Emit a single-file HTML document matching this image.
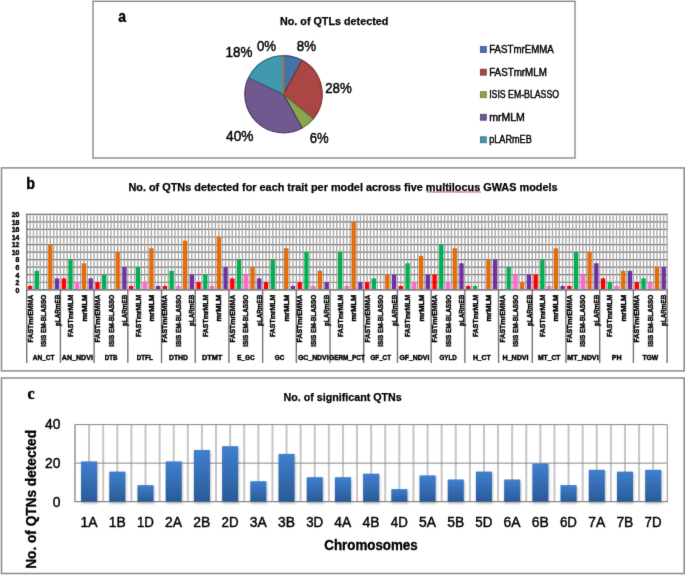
<!DOCTYPE html>
<html><head><meta charset="utf-8"><title>QTN charts</title>
<style>html,body{margin:0;padding:0;background:#fff}svg{display:block}</style>
</head><body>
<svg width="685" height="575" viewBox="0 0 685 575" font-family='"Liberation Sans", sans-serif'>
<defs>
<linearGradient id="bg" x1="0" y1="0" x2="0" y2="1"><stop offset="0" stop-color="#3f80cf"/><stop offset="1" stop-color="#2a5a97"/></linearGradient>
<filter id="soft" x="0" y="0" width="100%" height="100%" filterUnits="userSpaceOnUse" color-interpolation-filters="sRGB"><feConvolveMatrix order="3" kernelMatrix="0.008 0.07 0.008 0.07 0.688 0.07 0.008 0.07 0.008" edgeMode="duplicate" preserveAlpha="true"/></filter>
<filter id="sh" x="-30%" y="-10%" width="160%" height="130%"><feGaussianBlur stdDeviation="1.1"/></filter>
</defs>
<rect width="685" height="575" fill="#fff"/>
<g filter="url(#soft)">
<rect width="685" height="575" fill="#fff"/>
<rect x="93" y="1.3" width="482" height="156.7" fill="#fff" stroke="#8a8a8a" stroke-width="1.4"/>
<rect x="1.5" y="167.9" width="682.7" height="203.0" fill="#fff" stroke="#8a8a8a" stroke-width="1.5"/>
<rect x="1.5" y="378" width="682.7" height="195.5" fill="#fff" stroke="#8a8a8a" stroke-width="1.5"/>
<text transform="translate(118.3,22.1) scale(0.88,1)" font-size="15.8" font-weight="bold" stroke="#000" stroke-width="0.4">a</text>
<text x="280.00" y="24.70" font-size="11.4" font-weight="bold" fill="#000" textLength="108.30" lengthAdjust="spacingAndGlyphs" stroke="#000" stroke-width="0.25">No. of QTLs detected</text>
<path d="M283.5,94.2 L283.50,55.55 A38.65,38.65 0 0 1 302.12,60.33 Z" fill="#4572A7" stroke="#2f4f76" stroke-width="1.15" stroke-linejoin="round"/>
<path d="M283.5,94.2 L302.12,60.33 A38.65,38.65 0 0 1 313.28,118.84 Z" fill="#AA4643" stroke="#772f2d" stroke-width="1.15" stroke-linejoin="round"/>
<path d="M283.5,94.2 L313.28,118.84 A38.65,38.65 0 0 1 302.12,128.07 Z" fill="#89A54E" stroke="#5e7335" stroke-width="1.15" stroke-linejoin="round"/>
<path d="M283.5,94.2 L302.12,128.07 A38.65,38.65 0 0 1 248.53,77.74 Z" fill="#71588F" stroke="#4b3a61" stroke-width="1.15" stroke-linejoin="round"/>
<path d="M283.5,94.2 L248.53,77.74 A38.65,38.65 0 0 1 283.50,55.55 Z" fill="#4198AF" stroke="#2b6879" stroke-width="1.15" stroke-linejoin="round"/>
<line x1="283.5" y1="94.2" x2="283.5" y2="55.550000000000004" stroke="#b9712f" stroke-width="1.5"/>
<text x="225.60" y="57.10" font-size="14.0" font-weight="normal" fill="#000" textLength="26.90" lengthAdjust="spacingAndGlyphs" stroke="#000" stroke-width="0.42">18%</text>
<text x="256.90" y="51.30" font-size="14.0" font-weight="normal" fill="#000" textLength="19.10" lengthAdjust="spacingAndGlyphs" stroke="#000" stroke-width="0.42">0%</text>
<text x="296.80" y="51.30" font-size="14.0" font-weight="normal" fill="#000" textLength="19.30" lengthAdjust="spacingAndGlyphs" stroke="#000" stroke-width="0.42">8%</text>
<text x="325.20" y="92.80" font-size="14.0" font-weight="normal" fill="#000" textLength="26.60" lengthAdjust="spacingAndGlyphs" stroke="#000" stroke-width="0.42">28%</text>
<text x="226.00" y="140.50" font-size="14.0" font-weight="normal" fill="#000" textLength="27.50" lengthAdjust="spacingAndGlyphs" stroke="#000" stroke-width="0.42">40%</text>
<text x="309.80" y="142.90" font-size="14.0" font-weight="normal" fill="#000" textLength="18.90" lengthAdjust="spacingAndGlyphs" stroke="#000" stroke-width="0.42">6%</text>
<rect x="480.3" y="46.60" width="6" height="6" fill="#4572A7" stroke="#2f4f76" stroke-width="0.7"/>
<text x="489.20" y="53.00" font-size="10.0" font-weight="normal" fill="#000" textLength="64.60" lengthAdjust="spacingAndGlyphs" stroke="#000" stroke-width="0.42">FASTmrEMMA</text>
<rect x="480.3" y="69.15" width="6" height="6" fill="#AA4643" stroke="#772f2d" stroke-width="0.7"/>
<text x="489.20" y="75.55" font-size="10.0" font-weight="normal" fill="#000" textLength="57.60" lengthAdjust="spacingAndGlyphs" stroke="#000" stroke-width="0.42">FASTmrMLM</text>
<rect x="480.3" y="91.70" width="6" height="6" fill="#89A54E" stroke="#5e7335" stroke-width="0.7"/>
<text x="489.20" y="98.10" font-size="10.0" font-weight="normal" fill="#000" textLength="69.80" lengthAdjust="spacingAndGlyphs" stroke="#000" stroke-width="0.42">ISIS EM-BLASSO</text>
<rect x="480.3" y="114.25" width="6" height="6" fill="#71588F" stroke="#4b3a61" stroke-width="0.7"/>
<text x="489.20" y="120.65" font-size="10.0" font-weight="normal" fill="#000" textLength="35.60" lengthAdjust="spacingAndGlyphs" stroke="#000" stroke-width="0.42">mrMLM</text>
<rect x="480.3" y="136.80" width="6" height="6" fill="#4198AF" stroke="#2b6879" stroke-width="0.7"/>
<text x="489.20" y="143.20" font-size="10.0" font-weight="normal" fill="#000" textLength="42.60" lengthAdjust="spacingAndGlyphs" stroke="#000" stroke-width="0.42">pLARmEB</text>
<text transform="translate(26.3,188.7) scale(0.86,1)" font-size="16.6" font-weight="bold" stroke="#000" stroke-width="0.4">b</text>
<text x="128.40" y="191.40" font-size="11.4" font-weight="bold" fill="#000" textLength="429.20" lengthAdjust="spacingAndGlyphs" stroke="#000" stroke-width="0.25">No. of QTNs detected for each trait per model across five multilocus GWAS models</text>
<path d="M426.9,192.1 L428.4,191.7 L429.9,192.3 L431.4,191.7 L432.9,192.3 L434.4,191.7 L435.9,192.3 L437.4,191.7 L438.9,192.3 L440.4,191.7 L441.9,192.3 L443.4,191.7 L444.9,192.3 L446.4,191.7 L447.9,192.3 L449.4,191.7 L450.9,192.3 L452.4,191.7 L453.9,192.3 L455.4,191.7 L456.9,192.3 L458.4,191.7 L459.9,192.3 L461.4,191.7 L462.9,192.3 L464.4,191.7 L465.9,192.3 L467.4,191.7 L468.9,192.3 L470.4,191.7 L471.9,192.3 L473.4,191.7 L474.9,192.3 L476.4,191.7 L477.9,192.3 L479.4,191.7 L480.9,192.3" fill="none" stroke="#e02020" stroke-width="0.9"/>
<path d="M26.099999999999998,214.35H667.7 M26.099999999999998,221.89H667.7 M26.099999999999998,229.44H667.7 M26.099999999999998,236.99H667.7 M26.099999999999998,244.53H667.7 M26.099999999999998,252.07H667.7 M26.099999999999998,259.62H667.7 M26.099999999999998,267.17H667.7 M26.099999999999998,274.71H667.7 M26.099999999999998,282.25H667.7 M26.099999999999998,289.80H667.7" stroke="#6c6c6c" stroke-width="1.2" fill="none"/>
<path d="M26.70,213.45V290.30 M30.07,213.45V290.30 M33.44,213.45V290.30 M36.81,213.45V290.30 M40.18,213.45V290.30 M43.55,213.45V290.30 M46.92,213.45V290.30 M50.29,213.45V290.30 M53.66,213.45V290.30 M57.03,213.45V290.30 M60.41,213.45V290.30 M63.78,213.45V290.30 M67.15,213.45V290.30 M70.52,213.45V290.30 M73.89,213.45V290.30 M77.26,213.45V290.30 M80.63,213.45V290.30 M84.00,213.45V290.30 M87.37,213.45V290.30 M90.74,213.45V290.30 M94.11,213.45V290.30 M97.48,213.45V290.30 M100.85,213.45V290.30 M104.22,213.45V290.30 M107.59,213.45V290.30 M110.96,213.45V290.30 M114.33,213.45V290.30 M117.70,213.45V290.30 M121.07,213.45V290.30 M124.45,213.45V290.30 M127.82,213.45V290.30 M131.19,213.45V290.30 M134.56,213.45V290.30 M137.93,213.45V290.30 M141.30,213.45V290.30 M144.67,213.45V290.30 M148.04,213.45V290.30 M151.41,213.45V290.30 M154.78,213.45V290.30 M158.15,213.45V290.30 M161.52,213.45V290.30 M164.89,213.45V290.30 M168.26,213.45V290.30 M171.63,213.45V290.30 M175.00,213.45V290.30 M178.37,213.45V290.30 M181.74,213.45V290.30 M185.11,213.45V290.30 M188.49,213.45V290.30 M191.86,213.45V290.30 M195.23,213.45V290.30 M198.60,213.45V290.30 M201.97,213.45V290.30 M205.34,213.45V290.30 M208.71,213.45V290.30 M212.08,213.45V290.30 M215.45,213.45V290.30 M218.82,213.45V290.30 M222.19,213.45V290.30 M225.56,213.45V290.30 M228.93,213.45V290.30 M232.30,213.45V290.30 M235.67,213.45V290.30 M239.04,213.45V290.30 M242.41,213.45V290.30 M245.78,213.45V290.30 M249.15,213.45V290.30 M252.53,213.45V290.30 M255.90,213.45V290.30 M259.27,213.45V290.30 M262.64,213.45V290.30 M266.01,213.45V290.30 M269.38,213.45V290.30 M272.75,213.45V290.30 M276.12,213.45V290.30 M279.49,213.45V290.30 M282.86,213.45V290.30 M286.23,213.45V290.30 M289.60,213.45V290.30 M292.97,213.45V290.30 M296.34,213.45V290.30 M299.71,213.45V290.30 M303.08,213.45V290.30 M306.45,213.45V290.30 M309.82,213.45V290.30 M313.19,213.45V290.30 M316.57,213.45V290.30 M319.94,213.45V290.30 M323.31,213.45V290.30 M326.68,213.45V290.30 M330.05,213.45V290.30 M333.42,213.45V290.30 M336.79,213.45V290.30 M340.16,213.45V290.30 M343.53,213.45V290.30 M346.90,213.45V290.30 M350.27,213.45V290.30 M353.64,213.45V290.30 M357.01,213.45V290.30 M360.38,213.45V290.30 M363.75,213.45V290.30 M367.12,213.45V290.30 M370.49,213.45V290.30 M373.86,213.45V290.30 M377.23,213.45V290.30 M380.61,213.45V290.30 M383.98,213.45V290.30 M387.35,213.45V290.30 M390.72,213.45V290.30 M394.09,213.45V290.30 M397.46,213.45V290.30 M400.83,213.45V290.30 M404.20,213.45V290.30 M407.57,213.45V290.30 M410.94,213.45V290.30 M414.31,213.45V290.30 M417.68,213.45V290.30 M421.05,213.45V290.30 M424.42,213.45V290.30 M427.79,213.45V290.30 M431.16,213.45V290.30 M434.53,213.45V290.30 M437.90,213.45V290.30 M441.27,213.45V290.30 M444.65,213.45V290.30 M448.02,213.45V290.30 M451.39,213.45V290.30 M454.76,213.45V290.30 M458.13,213.45V290.30 M461.50,213.45V290.30 M464.87,213.45V290.30 M468.24,213.45V290.30 M471.61,213.45V290.30 M474.98,213.45V290.30 M478.35,213.45V290.30 M481.72,213.45V290.30 M485.09,213.45V290.30 M488.46,213.45V290.30 M491.83,213.45V290.30 M495.20,213.45V290.30 M498.57,213.45V290.30 M501.94,213.45V290.30 M505.31,213.45V290.30 M508.69,213.45V290.30 M512.06,213.45V290.30 M515.43,213.45V290.30 M518.80,213.45V290.30 M522.17,213.45V290.30 M525.54,213.45V290.30 M528.91,213.45V290.30 M532.28,213.45V290.30 M535.65,213.45V290.30 M539.02,213.45V290.30 M542.39,213.45V290.30 M545.76,213.45V290.30 M549.13,213.45V290.30 M552.50,213.45V290.30 M555.87,213.45V290.30 M559.24,213.45V290.30 M562.61,213.45V290.30 M565.98,213.45V290.30 M569.35,213.45V290.30 M572.73,213.45V290.30 M576.10,213.45V290.30 M579.47,213.45V290.30 M582.84,213.45V290.30 M586.21,213.45V290.30 M589.58,213.45V290.30 M592.95,213.45V290.30 M596.32,213.45V290.30 M599.69,213.45V290.30 M603.06,213.45V290.30 M606.43,213.45V290.30 M609.80,213.45V290.30 M613.17,213.45V290.30 M616.54,213.45V290.30 M619.91,213.45V290.30 M623.28,213.45V290.30 M626.65,213.45V290.30 M630.02,213.45V290.30 M633.39,213.45V290.30 M636.77,213.45V290.30 M640.14,213.45V290.30 M643.51,213.45V290.30 M646.88,213.45V290.30 M650.25,213.45V290.30 M653.62,213.45V290.30 M656.99,213.45V290.30 M660.36,213.45V290.30 M663.73,213.45V290.30 M667.10,213.45V290.30" stroke="#a8a8a8" stroke-width="1.35" fill="none"/>
<rect x="27.92" y="285.93" width="4.3" height="3.87" fill="#FF0000"/>
<rect x="34.66" y="270.84" width="4.3" height="18.96" fill="#00B050"/>
<rect x="48.14" y="244.43" width="4.3" height="45.37" fill="#E46C0A"/>
<rect x="54.88" y="278.38" width="4.3" height="11.42" fill="#7030A0"/>
<rect x="61.63" y="278.38" width="4.3" height="11.42" fill="#FF0000"/>
<rect x="68.37" y="259.52" width="4.3" height="30.28" fill="#00B050"/>
<rect x="75.11" y="282.15" width="4.3" height="7.65" fill="#FF66CC"/>
<rect x="81.85" y="263.29" width="4.3" height="26.51" fill="#E46C0A"/>
<rect x="88.59" y="278.38" width="4.3" height="11.42" fill="#7030A0"/>
<rect x="95.33" y="282.15" width="4.3" height="7.65" fill="#FF0000"/>
<rect x="102.07" y="274.61" width="4.3" height="15.19" fill="#00B050"/>
<rect x="115.55" y="251.97" width="4.3" height="37.83" fill="#E46C0A"/>
<rect x="122.30" y="267.06" width="4.3" height="22.74" fill="#7030A0"/>
<rect x="129.04" y="285.93" width="4.3" height="3.87" fill="#FF0000"/>
<rect x="135.78" y="267.06" width="4.3" height="22.74" fill="#00B050"/>
<rect x="142.52" y="282.15" width="4.3" height="7.65" fill="#FF66CC"/>
<rect x="149.26" y="248.20" width="4.3" height="41.60" fill="#E46C0A"/>
<rect x="156.00" y="285.93" width="4.3" height="3.87" fill="#7030A0"/>
<rect x="162.74" y="285.93" width="4.3" height="3.87" fill="#FF0000"/>
<rect x="169.48" y="270.84" width="4.3" height="18.96" fill="#00B050"/>
<rect x="176.22" y="285.93" width="4.3" height="3.87" fill="#FF66CC"/>
<rect x="182.96" y="240.66" width="4.3" height="49.14" fill="#E46C0A"/>
<rect x="189.71" y="274.61" width="4.3" height="15.19" fill="#7030A0"/>
<rect x="196.45" y="282.15" width="4.3" height="7.65" fill="#FF0000"/>
<rect x="203.19" y="274.61" width="4.3" height="15.19" fill="#00B050"/>
<rect x="209.93" y="285.93" width="4.3" height="3.87" fill="#FF66CC"/>
<rect x="216.67" y="236.89" width="4.3" height="52.92" fill="#E46C0A"/>
<rect x="223.41" y="267.06" width="4.3" height="22.74" fill="#7030A0"/>
<rect x="230.15" y="278.38" width="4.3" height="11.42" fill="#FF0000"/>
<rect x="236.89" y="259.52" width="4.3" height="30.28" fill="#00B050"/>
<rect x="243.63" y="274.61" width="4.3" height="15.19" fill="#FF66CC"/>
<rect x="250.38" y="267.06" width="4.3" height="22.74" fill="#E46C0A"/>
<rect x="257.12" y="278.38" width="4.3" height="11.42" fill="#7030A0"/>
<rect x="263.86" y="282.15" width="4.3" height="7.65" fill="#FF0000"/>
<rect x="270.60" y="259.52" width="4.3" height="30.28" fill="#00B050"/>
<rect x="284.08" y="248.20" width="4.3" height="41.60" fill="#E46C0A"/>
<rect x="290.82" y="285.93" width="4.3" height="3.87" fill="#7030A0"/>
<rect x="297.56" y="282.15" width="4.3" height="7.65" fill="#FF0000"/>
<rect x="304.30" y="251.97" width="4.3" height="37.83" fill="#00B050"/>
<rect x="311.04" y="285.93" width="4.3" height="3.87" fill="#FF66CC"/>
<rect x="317.79" y="270.84" width="4.3" height="18.96" fill="#E46C0A"/>
<rect x="324.53" y="282.15" width="4.3" height="7.65" fill="#7030A0"/>
<rect x="338.01" y="251.97" width="4.3" height="37.83" fill="#00B050"/>
<rect x="344.75" y="285.93" width="4.3" height="3.87" fill="#FF66CC"/>
<rect x="351.49" y="221.79" width="4.3" height="68.01" fill="#E46C0A"/>
<rect x="358.23" y="282.15" width="4.3" height="7.65" fill="#7030A0"/>
<rect x="364.97" y="282.15" width="4.3" height="7.65" fill="#FF0000"/>
<rect x="371.71" y="278.38" width="4.3" height="11.42" fill="#00B050"/>
<rect x="385.20" y="274.61" width="4.3" height="15.19" fill="#E46C0A"/>
<rect x="391.94" y="274.61" width="4.3" height="15.19" fill="#7030A0"/>
<rect x="398.68" y="285.93" width="4.3" height="3.87" fill="#FF0000"/>
<rect x="405.42" y="263.29" width="4.3" height="26.51" fill="#00B050"/>
<rect x="412.16" y="282.15" width="4.3" height="7.65" fill="#FF66CC"/>
<rect x="418.90" y="255.75" width="4.3" height="34.05" fill="#E46C0A"/>
<rect x="425.64" y="274.61" width="4.3" height="15.19" fill="#7030A0"/>
<rect x="432.38" y="274.61" width="4.3" height="15.19" fill="#FF0000"/>
<rect x="439.12" y="244.43" width="4.3" height="45.37" fill="#00B050"/>
<rect x="445.87" y="282.15" width="4.3" height="7.65" fill="#FF66CC"/>
<rect x="452.61" y="248.20" width="4.3" height="41.60" fill="#E46C0A"/>
<rect x="459.35" y="263.29" width="4.3" height="26.51" fill="#7030A0"/>
<rect x="466.09" y="285.93" width="4.3" height="3.87" fill="#FF0000"/>
<rect x="472.83" y="285.93" width="4.3" height="3.87" fill="#00B050"/>
<rect x="486.31" y="259.52" width="4.3" height="30.28" fill="#E46C0A"/>
<rect x="493.05" y="259.52" width="4.3" height="30.28" fill="#7030A0"/>
<rect x="506.54" y="267.06" width="4.3" height="22.74" fill="#00B050"/>
<rect x="513.28" y="274.61" width="4.3" height="15.19" fill="#FF66CC"/>
<rect x="520.02" y="282.15" width="4.3" height="7.65" fill="#E46C0A"/>
<rect x="526.76" y="274.61" width="4.3" height="15.19" fill="#7030A0"/>
<rect x="533.50" y="274.61" width="4.3" height="15.19" fill="#FF0000"/>
<rect x="540.24" y="259.52" width="4.3" height="30.28" fill="#00B050"/>
<rect x="546.98" y="285.93" width="4.3" height="3.87" fill="#FF66CC"/>
<rect x="553.72" y="248.20" width="4.3" height="41.60" fill="#E46C0A"/>
<rect x="560.46" y="285.93" width="4.3" height="3.87" fill="#7030A0"/>
<rect x="567.20" y="285.93" width="4.3" height="3.87" fill="#FF0000"/>
<rect x="573.95" y="251.97" width="4.3" height="37.83" fill="#00B050"/>
<rect x="580.69" y="274.61" width="4.3" height="15.19" fill="#FF66CC"/>
<rect x="587.43" y="251.97" width="4.3" height="37.83" fill="#E46C0A"/>
<rect x="594.17" y="263.29" width="4.3" height="26.51" fill="#7030A0"/>
<rect x="600.91" y="278.38" width="4.3" height="11.42" fill="#FF0000"/>
<rect x="607.65" y="282.15" width="4.3" height="7.65" fill="#00B050"/>
<rect x="614.39" y="285.93" width="4.3" height="3.87" fill="#FF66CC"/>
<rect x="621.13" y="270.84" width="4.3" height="18.96" fill="#E46C0A"/>
<rect x="627.87" y="270.84" width="4.3" height="18.96" fill="#7030A0"/>
<rect x="634.62" y="282.15" width="4.3" height="7.65" fill="#FF0000"/>
<rect x="641.36" y="278.38" width="4.3" height="11.42" fill="#00B050"/>
<rect x="648.10" y="282.15" width="4.3" height="7.65" fill="#FF66CC"/>
<rect x="654.84" y="267.06" width="4.3" height="22.74" fill="#E46C0A"/>
<rect x="661.58" y="267.06" width="4.3" height="22.74" fill="#7030A0"/>
<path d="M26.099999999999998,289.70H667.7 M26.7,213.45V289.8" stroke="#838383" stroke-width="1.3" fill="none"/>
<text x="15.55" y="292.65" font-size="7.3" font-weight="bold" fill="#000" textLength="3.85" lengthAdjust="spacingAndGlyphs" stroke="#000" stroke-width="0.45">0</text>
<text x="15.55" y="285.11" font-size="7.3" font-weight="bold" fill="#000" textLength="3.85" lengthAdjust="spacingAndGlyphs" stroke="#000" stroke-width="0.45">2</text>
<text x="15.55" y="277.56" font-size="7.3" font-weight="bold" fill="#000" textLength="3.85" lengthAdjust="spacingAndGlyphs" stroke="#000" stroke-width="0.45">4</text>
<text x="15.55" y="270.02" font-size="7.3" font-weight="bold" fill="#000" textLength="3.85" lengthAdjust="spacingAndGlyphs" stroke="#000" stroke-width="0.45">6</text>
<text x="15.55" y="262.47" font-size="7.3" font-weight="bold" fill="#000" textLength="3.85" lengthAdjust="spacingAndGlyphs" stroke="#000" stroke-width="0.45">8</text>
<text x="11.70" y="254.92" font-size="7.3" font-weight="bold" fill="#000" textLength="7.70" lengthAdjust="spacingAndGlyphs" stroke="#000" stroke-width="0.45">10</text>
<text x="11.70" y="247.38" font-size="7.3" font-weight="bold" fill="#000" textLength="7.70" lengthAdjust="spacingAndGlyphs" stroke="#000" stroke-width="0.45">12</text>
<text x="11.70" y="239.84" font-size="7.3" font-weight="bold" fill="#000" textLength="7.70" lengthAdjust="spacingAndGlyphs" stroke="#000" stroke-width="0.45">14</text>
<text x="11.70" y="232.29" font-size="7.3" font-weight="bold" fill="#000" textLength="7.70" lengthAdjust="spacingAndGlyphs" stroke="#000" stroke-width="0.45">16</text>
<text x="11.70" y="224.74" font-size="7.3" font-weight="bold" fill="#000" textLength="7.70" lengthAdjust="spacingAndGlyphs" stroke="#000" stroke-width="0.45">18</text>
<text x="11.70" y="217.20" font-size="7.3" font-weight="bold" fill="#000" textLength="7.70" lengthAdjust="spacingAndGlyphs" stroke="#000" stroke-width="0.45">20</text>
<path d="M26.70,289.8V363.0 M60.41,289.8V363.0 M94.11,289.8V363.0 M127.82,289.8V363.0 M161.52,289.8V363.0 M195.23,289.8V363.0 M228.93,289.8V363.0 M262.64,289.8V363.0 M296.34,289.8V363.0 M330.05,289.8V363.0 M363.75,289.8V363.0 M397.46,289.8V363.0 M431.16,289.8V363.0 M464.87,289.8V363.0 M498.57,289.8V363.0 M532.28,289.8V363.0 M565.98,289.8V363.0 M599.69,289.8V363.0 M633.39,289.8V363.0 M667.10,289.8V363.0" stroke="#747474" stroke-width="1.4" fill="none"/>
<text transform="translate(32.67,342.40) rotate(-90)" font-size="7.8" font-weight="bold" stroke="#000" stroke-width="0.45" textLength="47.70" lengthAdjust="spacingAndGlyphs">FASTmrEMMA</text>
<text transform="translate(46.15,346.80) rotate(-90)" font-size="7.8" font-weight="bold" stroke="#000" stroke-width="0.45" textLength="52.10" lengthAdjust="spacingAndGlyphs">ISIS EM-BLASSO</text>
<text transform="translate(59.63,326.10) rotate(-90)" font-size="7.8" font-weight="bold" stroke="#000" stroke-width="0.45" textLength="31.40" lengthAdjust="spacingAndGlyphs">pLARmEB</text>
<text transform="translate(73.12,337.10) rotate(-90)" font-size="7.8" font-weight="bold" stroke="#000" stroke-width="0.45" textLength="42.40" lengthAdjust="spacingAndGlyphs">FASTmrMLM</text>
<text transform="translate(86.60,321.40) rotate(-90)" font-size="7.8" font-weight="bold" stroke="#000" stroke-width="0.45" textLength="26.70" lengthAdjust="spacingAndGlyphs">mrMLM</text>
<text transform="translate(100.08,342.40) rotate(-90)" font-size="7.8" font-weight="bold" stroke="#000" stroke-width="0.45" textLength="47.70" lengthAdjust="spacingAndGlyphs">FASTmrEMMA</text>
<text transform="translate(113.56,346.80) rotate(-90)" font-size="7.8" font-weight="bold" stroke="#000" stroke-width="0.45" textLength="52.10" lengthAdjust="spacingAndGlyphs">ISIS EM-BLASSO</text>
<text transform="translate(127.05,326.10) rotate(-90)" font-size="7.8" font-weight="bold" stroke="#000" stroke-width="0.45" textLength="31.40" lengthAdjust="spacingAndGlyphs">pLARmEB</text>
<text transform="translate(140.53,337.10) rotate(-90)" font-size="7.8" font-weight="bold" stroke="#000" stroke-width="0.45" textLength="42.40" lengthAdjust="spacingAndGlyphs">FASTmrMLM</text>
<text transform="translate(154.01,321.40) rotate(-90)" font-size="7.8" font-weight="bold" stroke="#000" stroke-width="0.45" textLength="26.70" lengthAdjust="spacingAndGlyphs">mrMLM</text>
<text transform="translate(167.49,342.40) rotate(-90)" font-size="7.8" font-weight="bold" stroke="#000" stroke-width="0.45" textLength="47.70" lengthAdjust="spacingAndGlyphs">FASTmrEMMA</text>
<text transform="translate(180.97,346.80) rotate(-90)" font-size="7.8" font-weight="bold" stroke="#000" stroke-width="0.45" textLength="52.10" lengthAdjust="spacingAndGlyphs">ISIS EM-BLASSO</text>
<text transform="translate(194.46,326.10) rotate(-90)" font-size="7.8" font-weight="bold" stroke="#000" stroke-width="0.45" textLength="31.40" lengthAdjust="spacingAndGlyphs">pLARmEB</text>
<text transform="translate(207.94,337.10) rotate(-90)" font-size="7.8" font-weight="bold" stroke="#000" stroke-width="0.45" textLength="42.40" lengthAdjust="spacingAndGlyphs">FASTmrMLM</text>
<text transform="translate(221.42,321.40) rotate(-90)" font-size="7.8" font-weight="bold" stroke="#000" stroke-width="0.45" textLength="26.70" lengthAdjust="spacingAndGlyphs">mrMLM</text>
<text transform="translate(234.90,342.40) rotate(-90)" font-size="7.8" font-weight="bold" stroke="#000" stroke-width="0.45" textLength="47.70" lengthAdjust="spacingAndGlyphs">FASTmrEMMA</text>
<text transform="translate(248.38,346.80) rotate(-90)" font-size="7.8" font-weight="bold" stroke="#000" stroke-width="0.45" textLength="52.10" lengthAdjust="spacingAndGlyphs">ISIS EM-BLASSO</text>
<text transform="translate(261.87,326.10) rotate(-90)" font-size="7.8" font-weight="bold" stroke="#000" stroke-width="0.45" textLength="31.40" lengthAdjust="spacingAndGlyphs">pLARmEB</text>
<text transform="translate(275.35,337.10) rotate(-90)" font-size="7.8" font-weight="bold" stroke="#000" stroke-width="0.45" textLength="42.40" lengthAdjust="spacingAndGlyphs">FASTmrMLM</text>
<text transform="translate(288.83,321.40) rotate(-90)" font-size="7.8" font-weight="bold" stroke="#000" stroke-width="0.45" textLength="26.70" lengthAdjust="spacingAndGlyphs">mrMLM</text>
<text transform="translate(302.31,342.40) rotate(-90)" font-size="7.8" font-weight="bold" stroke="#000" stroke-width="0.45" textLength="47.70" lengthAdjust="spacingAndGlyphs">FASTmrEMMA</text>
<text transform="translate(315.79,346.80) rotate(-90)" font-size="7.8" font-weight="bold" stroke="#000" stroke-width="0.45" textLength="52.10" lengthAdjust="spacingAndGlyphs">ISIS EM-BLASSO</text>
<text transform="translate(329.28,326.10) rotate(-90)" font-size="7.8" font-weight="bold" stroke="#000" stroke-width="0.45" textLength="31.40" lengthAdjust="spacingAndGlyphs">pLARmEB</text>
<text transform="translate(342.76,337.10) rotate(-90)" font-size="7.8" font-weight="bold" stroke="#000" stroke-width="0.45" textLength="42.40" lengthAdjust="spacingAndGlyphs">FASTmrMLM</text>
<text transform="translate(356.24,321.40) rotate(-90)" font-size="7.8" font-weight="bold" stroke="#000" stroke-width="0.45" textLength="26.70" lengthAdjust="spacingAndGlyphs">mrMLM</text>
<text transform="translate(369.72,342.40) rotate(-90)" font-size="7.8" font-weight="bold" stroke="#000" stroke-width="0.45" textLength="47.70" lengthAdjust="spacingAndGlyphs">FASTmrEMMA</text>
<text transform="translate(383.21,346.80) rotate(-90)" font-size="7.8" font-weight="bold" stroke="#000" stroke-width="0.45" textLength="52.10" lengthAdjust="spacingAndGlyphs">ISIS EM-BLASSO</text>
<text transform="translate(396.69,326.10) rotate(-90)" font-size="7.8" font-weight="bold" stroke="#000" stroke-width="0.45" textLength="31.40" lengthAdjust="spacingAndGlyphs">pLARmEB</text>
<text transform="translate(410.17,337.10) rotate(-90)" font-size="7.8" font-weight="bold" stroke="#000" stroke-width="0.45" textLength="42.40" lengthAdjust="spacingAndGlyphs">FASTmrMLM</text>
<text transform="translate(423.65,321.40) rotate(-90)" font-size="7.8" font-weight="bold" stroke="#000" stroke-width="0.45" textLength="26.70" lengthAdjust="spacingAndGlyphs">mrMLM</text>
<text transform="translate(437.13,342.40) rotate(-90)" font-size="7.8" font-weight="bold" stroke="#000" stroke-width="0.45" textLength="47.70" lengthAdjust="spacingAndGlyphs">FASTmrEMMA</text>
<text transform="translate(450.62,346.80) rotate(-90)" font-size="7.8" font-weight="bold" stroke="#000" stroke-width="0.45" textLength="52.10" lengthAdjust="spacingAndGlyphs">ISIS EM-BLASSO</text>
<text transform="translate(464.10,326.10) rotate(-90)" font-size="7.8" font-weight="bold" stroke="#000" stroke-width="0.45" textLength="31.40" lengthAdjust="spacingAndGlyphs">pLARmEB</text>
<text transform="translate(477.58,337.10) rotate(-90)" font-size="7.8" font-weight="bold" stroke="#000" stroke-width="0.45" textLength="42.40" lengthAdjust="spacingAndGlyphs">FASTmrMLM</text>
<text transform="translate(491.06,321.40) rotate(-90)" font-size="7.8" font-weight="bold" stroke="#000" stroke-width="0.45" textLength="26.70" lengthAdjust="spacingAndGlyphs">mrMLM</text>
<text transform="translate(504.54,342.40) rotate(-90)" font-size="7.8" font-weight="bold" stroke="#000" stroke-width="0.45" textLength="47.70" lengthAdjust="spacingAndGlyphs">FASTmrEMMA</text>
<text transform="translate(518.03,346.80) rotate(-90)" font-size="7.8" font-weight="bold" stroke="#000" stroke-width="0.45" textLength="52.10" lengthAdjust="spacingAndGlyphs">ISIS EM-BLASSO</text>
<text transform="translate(531.51,326.10) rotate(-90)" font-size="7.8" font-weight="bold" stroke="#000" stroke-width="0.45" textLength="31.40" lengthAdjust="spacingAndGlyphs">pLARmEB</text>
<text transform="translate(544.99,337.10) rotate(-90)" font-size="7.8" font-weight="bold" stroke="#000" stroke-width="0.45" textLength="42.40" lengthAdjust="spacingAndGlyphs">FASTmrMLM</text>
<text transform="translate(558.47,321.40) rotate(-90)" font-size="7.8" font-weight="bold" stroke="#000" stroke-width="0.45" textLength="26.70" lengthAdjust="spacingAndGlyphs">mrMLM</text>
<text transform="translate(571.95,342.40) rotate(-90)" font-size="7.8" font-weight="bold" stroke="#000" stroke-width="0.45" textLength="47.70" lengthAdjust="spacingAndGlyphs">FASTmrEMMA</text>
<text transform="translate(585.44,346.80) rotate(-90)" font-size="7.8" font-weight="bold" stroke="#000" stroke-width="0.45" textLength="52.10" lengthAdjust="spacingAndGlyphs">ISIS EM-BLASSO</text>
<text transform="translate(598.92,326.10) rotate(-90)" font-size="7.8" font-weight="bold" stroke="#000" stroke-width="0.45" textLength="31.40" lengthAdjust="spacingAndGlyphs">pLARmEB</text>
<text transform="translate(612.40,337.10) rotate(-90)" font-size="7.8" font-weight="bold" stroke="#000" stroke-width="0.45" textLength="42.40" lengthAdjust="spacingAndGlyphs">FASTmrMLM</text>
<text transform="translate(625.88,321.40) rotate(-90)" font-size="7.8" font-weight="bold" stroke="#000" stroke-width="0.45" textLength="26.70" lengthAdjust="spacingAndGlyphs">mrMLM</text>
<text transform="translate(639.37,342.40) rotate(-90)" font-size="7.8" font-weight="bold" stroke="#000" stroke-width="0.45" textLength="47.70" lengthAdjust="spacingAndGlyphs">FASTmrEMMA</text>
<text transform="translate(652.85,346.80) rotate(-90)" font-size="7.8" font-weight="bold" stroke="#000" stroke-width="0.45" textLength="52.10" lengthAdjust="spacingAndGlyphs">ISIS EM-BLASSO</text>
<text transform="translate(666.33,326.10) rotate(-90)" font-size="7.8" font-weight="bold" stroke="#000" stroke-width="0.45" textLength="31.40" lengthAdjust="spacingAndGlyphs">pLARmEB</text>
<text x="32.80" y="359.70" font-size="7.7" font-weight="bold" fill="#000" textLength="21.70" lengthAdjust="spacingAndGlyphs" stroke="#000" stroke-width="0.45">AN_CT</text>
<text x="61.76" y="359.70" font-size="7.7" font-weight="bold" fill="#000" textLength="31.20" lengthAdjust="spacingAndGlyphs" stroke="#000" stroke-width="0.45">AN_NDVI</text>
<text x="104.66" y="359.70" font-size="7.7" font-weight="bold" fill="#000" textLength="12.80" lengthAdjust="spacingAndGlyphs" stroke="#000" stroke-width="0.45">DTB</text>
<text x="136.77" y="359.70" font-size="7.7" font-weight="bold" fill="#000" textLength="16.00" lengthAdjust="spacingAndGlyphs" stroke="#000" stroke-width="0.45">DTFL</text>
<text x="168.97" y="359.70" font-size="7.7" font-weight="bold" fill="#000" textLength="19.00" lengthAdjust="spacingAndGlyphs" stroke="#000" stroke-width="0.45">DTHD</text>
<text x="202.03" y="359.70" font-size="7.7" font-weight="bold" fill="#000" textLength="20.30" lengthAdjust="spacingAndGlyphs" stroke="#000" stroke-width="0.45">DTMT</text>
<text x="237.23" y="359.70" font-size="7.7" font-weight="bold" fill="#000" textLength="17.30" lengthAdjust="spacingAndGlyphs" stroke="#000" stroke-width="0.45">E_GC</text>
<text x="274.79" y="359.70" font-size="7.7" font-weight="bold" fill="#000" textLength="9.60" lengthAdjust="spacingAndGlyphs" stroke="#000" stroke-width="0.45">GC</text>
<text x="297.94" y="359.70" font-size="7.7" font-weight="bold" fill="#000" textLength="30.70" lengthAdjust="spacingAndGlyphs" stroke="#000" stroke-width="0.45">GC_NDVI</text>
<text x="329.30" y="359.70" font-size="7.7" font-weight="bold" fill="#000" textLength="35.40" lengthAdjust="spacingAndGlyphs" stroke="#000" stroke-width="0.45">GERM_PCT</text>
<text x="370.46" y="359.70" font-size="7.7" font-weight="bold" fill="#000" textLength="20.50" lengthAdjust="spacingAndGlyphs" stroke="#000" stroke-width="0.45">GF_CT</text>
<text x="399.46" y="359.70" font-size="7.7" font-weight="bold" fill="#000" textLength="29.90" lengthAdjust="spacingAndGlyphs" stroke="#000" stroke-width="0.45">GF_NDVI</text>
<text x="439.47" y="359.70" font-size="7.7" font-weight="bold" fill="#000" textLength="17.30" lengthAdjust="spacingAndGlyphs" stroke="#000" stroke-width="0.45">GYLD</text>
<text x="472.92" y="359.70" font-size="7.7" font-weight="bold" fill="#000" textLength="17.80" lengthAdjust="spacingAndGlyphs" stroke="#000" stroke-width="0.45">H_CT</text>
<text x="502.53" y="359.70" font-size="7.7" font-weight="bold" fill="#000" textLength="26.00" lengthAdjust="spacingAndGlyphs" stroke="#000" stroke-width="0.45">H_NDVI</text>
<text x="537.98" y="359.70" font-size="7.7" font-weight="bold" fill="#000" textLength="22.50" lengthAdjust="spacingAndGlyphs" stroke="#000" stroke-width="0.45">MT_CT</text>
<text x="567.24" y="359.70" font-size="7.7" font-weight="bold" fill="#000" textLength="31.40" lengthAdjust="spacingAndGlyphs" stroke="#000" stroke-width="0.45">MT_NDVI</text>
<text x="611.74" y="359.70" font-size="7.7" font-weight="bold" fill="#000" textLength="9.80" lengthAdjust="spacingAndGlyphs" stroke="#000" stroke-width="0.45">PH</text>
<text x="642.45" y="359.70" font-size="7.7" font-weight="bold" fill="#000" textLength="15.80" lengthAdjust="spacingAndGlyphs" stroke="#000" stroke-width="0.45">TGW</text>
<text x="27.6" y="398.8" font-family='"Liberation Serif", serif' font-size="16" font-weight="bold" stroke="#000" stroke-width="0.45">c</text>
<text x="283.60" y="401.40" font-size="11.4" font-weight="bold" fill="#000" textLength="118.10" lengthAdjust="spacingAndGlyphs" stroke="#000" stroke-width="0.25">No. of significant QTNs</text>
<path d="M89.10,424.6V501.7 M103.20,424.6V501.7 M117.31,424.6V501.7 M131.41,424.6V501.7 M145.51,424.6V501.7 M159.61,424.6V501.7 M173.72,424.6V501.7 M187.82,424.6V501.7 M201.92,424.6V501.7 M216.02,424.6V501.7 M230.13,424.6V501.7 M244.23,424.6V501.7 M258.33,424.6V501.7 M272.43,424.6V501.7 M286.54,424.6V501.7 M300.64,424.6V501.7 M314.74,424.6V501.7 M328.84,424.6V501.7 M342.95,424.6V501.7 M357.05,424.6V501.7 M371.15,424.6V501.7 M385.25,424.6V501.7 M399.35,424.6V501.7 M413.46,424.6V501.7 M427.56,424.6V501.7 M441.66,424.6V501.7 M455.76,424.6V501.7 M469.87,424.6V501.7 M483.97,424.6V501.7 M498.07,424.6V501.7 M512.17,424.6V501.7 M526.28,424.6V501.7 M540.38,424.6V501.7 M554.48,424.6V501.7 M568.58,424.6V501.7 M582.69,424.6V501.7 M596.79,424.6V501.7 M610.89,424.6V501.7 M624.99,424.6V501.7 M639.10,424.6V501.7 M653.20,424.6V501.7" stroke="#c6c6c6" stroke-width="2.0" fill="none"/>
<path d="M75.0,424.6H667.3 M75.0,463.15H667.3" stroke="#868686" stroke-width="1.0" fill="none"/>
<path d="M667.3,424.6V501.7" stroke="#a0a0a0" stroke-width="1.2" fill="none"/>
<rect x="81.40" y="462.60" width="16.6" height="40.90" fill="#000" fill-opacity="0.28" filter="url(#sh)"/>
<rect x="109.61" y="472.80" width="16.6" height="30.70" fill="#000" fill-opacity="0.28" filter="url(#sh)"/>
<rect x="137.81" y="486.30" width="16.6" height="17.20" fill="#000" fill-opacity="0.28" filter="url(#sh)"/>
<rect x="166.02" y="462.60" width="16.6" height="40.90" fill="#000" fill-opacity="0.28" filter="url(#sh)"/>
<rect x="194.22" y="451.20" width="16.6" height="52.30" fill="#000" fill-opacity="0.28" filter="url(#sh)"/>
<rect x="222.43" y="447.40" width="16.6" height="56.10" fill="#000" fill-opacity="0.28" filter="url(#sh)"/>
<rect x="250.63" y="482.40" width="16.6" height="21.10" fill="#000" fill-opacity="0.28" filter="url(#sh)"/>
<rect x="278.84" y="455.10" width="16.6" height="48.40" fill="#000" fill-opacity="0.28" filter="url(#sh)"/>
<rect x="307.04" y="478.40" width="16.6" height="25.10" fill="#000" fill-opacity="0.28" filter="url(#sh)"/>
<rect x="335.25" y="478.40" width="16.6" height="25.10" fill="#000" fill-opacity="0.28" filter="url(#sh)"/>
<rect x="363.45" y="474.90" width="16.6" height="28.60" fill="#000" fill-opacity="0.28" filter="url(#sh)"/>
<rect x="391.65" y="490.30" width="16.6" height="13.20" fill="#000" fill-opacity="0.28" filter="url(#sh)"/>
<rect x="419.86" y="476.60" width="16.6" height="26.90" fill="#000" fill-opacity="0.28" filter="url(#sh)"/>
<rect x="448.06" y="480.70" width="16.6" height="22.80" fill="#000" fill-opacity="0.28" filter="url(#sh)"/>
<rect x="476.27" y="472.80" width="16.6" height="30.70" fill="#000" fill-opacity="0.28" filter="url(#sh)"/>
<rect x="504.47" y="480.70" width="16.6" height="22.80" fill="#000" fill-opacity="0.28" filter="url(#sh)"/>
<rect x="532.68" y="464.70" width="16.6" height="38.80" fill="#000" fill-opacity="0.28" filter="url(#sh)"/>
<rect x="560.88" y="486.30" width="16.6" height="17.20" fill="#000" fill-opacity="0.28" filter="url(#sh)"/>
<rect x="589.09" y="471.00" width="16.6" height="32.50" fill="#000" fill-opacity="0.28" filter="url(#sh)"/>
<rect x="617.29" y="472.80" width="16.6" height="30.70" fill="#000" fill-opacity="0.28" filter="url(#sh)"/>
<rect x="645.50" y="471.00" width="16.6" height="32.50" fill="#000" fill-opacity="0.28" filter="url(#sh)"/>
<path d="M75.0,424.6V502.3 M74.4,501.7H667.9" stroke="#868686" stroke-width="1.3" fill="none"/>
<rect x="81.10" y="461.40" width="16.0" height="40.30" fill="url(#bg)"/>
<rect x="109.31" y="471.60" width="16.0" height="30.10" fill="url(#bg)"/>
<rect x="137.51" y="485.10" width="16.0" height="16.60" fill="url(#bg)"/>
<rect x="165.72" y="461.40" width="16.0" height="40.30" fill="url(#bg)"/>
<rect x="193.92" y="450.00" width="16.0" height="51.70" fill="url(#bg)"/>
<rect x="222.13" y="446.20" width="16.0" height="55.50" fill="url(#bg)"/>
<rect x="250.33" y="481.20" width="16.0" height="20.50" fill="url(#bg)"/>
<rect x="278.54" y="453.90" width="16.0" height="47.80" fill="url(#bg)"/>
<rect x="306.74" y="477.20" width="16.0" height="24.50" fill="url(#bg)"/>
<rect x="334.95" y="477.20" width="16.0" height="24.50" fill="url(#bg)"/>
<rect x="363.15" y="473.70" width="16.0" height="28.00" fill="url(#bg)"/>
<rect x="391.35" y="489.10" width="16.0" height="12.60" fill="url(#bg)"/>
<rect x="419.56" y="475.40" width="16.0" height="26.30" fill="url(#bg)"/>
<rect x="447.76" y="479.50" width="16.0" height="22.20" fill="url(#bg)"/>
<rect x="475.97" y="471.60" width="16.0" height="30.10" fill="url(#bg)"/>
<rect x="504.17" y="479.50" width="16.0" height="22.20" fill="url(#bg)"/>
<rect x="532.38" y="463.50" width="16.0" height="38.20" fill="url(#bg)"/>
<rect x="560.58" y="485.10" width="16.0" height="16.60" fill="url(#bg)"/>
<rect x="588.79" y="469.80" width="16.0" height="31.90" fill="url(#bg)"/>
<rect x="616.99" y="471.60" width="16.0" height="30.10" fill="url(#bg)"/>
<rect x="645.20" y="469.80" width="16.0" height="31.90" fill="url(#bg)"/>
<text x="45.10" y="429.25" font-size="13.8" font-weight="normal" fill="#000" textLength="15.40" lengthAdjust="spacingAndGlyphs" stroke="#000" stroke-width="0.42">40</text>
<text x="45.10" y="467.95" font-size="13.8" font-weight="normal" fill="#000" textLength="15.40" lengthAdjust="spacingAndGlyphs" stroke="#000" stroke-width="0.42">20</text>
<text x="52.80" y="506.65" font-size="13.8" font-weight="normal" fill="#000" textLength="7.70" lengthAdjust="spacingAndGlyphs" stroke="#000" stroke-width="0.42">0</text>
<text x="80.50" y="526.90" font-size="14.2" font-weight="normal" fill="#000" textLength="17.00" lengthAdjust="spacingAndGlyphs" stroke="#000" stroke-width="0.42">1A</text>
<text x="108.71" y="526.90" font-size="14.2" font-weight="normal" fill="#000" textLength="17.00" lengthAdjust="spacingAndGlyphs" stroke="#000" stroke-width="0.42">1B</text>
<text x="136.91" y="526.90" font-size="14.2" font-weight="normal" fill="#000" textLength="17.00" lengthAdjust="spacingAndGlyphs" stroke="#000" stroke-width="0.42">1D</text>
<text x="165.12" y="526.90" font-size="14.2" font-weight="normal" fill="#000" textLength="17.00" lengthAdjust="spacingAndGlyphs" stroke="#000" stroke-width="0.42">2A</text>
<text x="193.32" y="526.90" font-size="14.2" font-weight="normal" fill="#000" textLength="17.00" lengthAdjust="spacingAndGlyphs" stroke="#000" stroke-width="0.42">2B</text>
<text x="221.53" y="526.90" font-size="14.2" font-weight="normal" fill="#000" textLength="17.00" lengthAdjust="spacingAndGlyphs" stroke="#000" stroke-width="0.42">2D</text>
<text x="249.73" y="526.90" font-size="14.2" font-weight="normal" fill="#000" textLength="17.00" lengthAdjust="spacingAndGlyphs" stroke="#000" stroke-width="0.42">3A</text>
<text x="277.94" y="526.90" font-size="14.2" font-weight="normal" fill="#000" textLength="17.00" lengthAdjust="spacingAndGlyphs" stroke="#000" stroke-width="0.42">3B</text>
<text x="306.14" y="526.90" font-size="14.2" font-weight="normal" fill="#000" textLength="17.00" lengthAdjust="spacingAndGlyphs" stroke="#000" stroke-width="0.42">3D</text>
<text x="334.35" y="526.90" font-size="14.2" font-weight="normal" fill="#000" textLength="17.00" lengthAdjust="spacingAndGlyphs" stroke="#000" stroke-width="0.42">4A</text>
<text x="362.55" y="526.90" font-size="14.2" font-weight="normal" fill="#000" textLength="17.00" lengthAdjust="spacingAndGlyphs" stroke="#000" stroke-width="0.42">4B</text>
<text x="390.75" y="526.90" font-size="14.2" font-weight="normal" fill="#000" textLength="17.00" lengthAdjust="spacingAndGlyphs" stroke="#000" stroke-width="0.42">4D</text>
<text x="418.96" y="526.90" font-size="14.2" font-weight="normal" fill="#000" textLength="17.00" lengthAdjust="spacingAndGlyphs" stroke="#000" stroke-width="0.42">5A</text>
<text x="447.16" y="526.90" font-size="14.2" font-weight="normal" fill="#000" textLength="17.00" lengthAdjust="spacingAndGlyphs" stroke="#000" stroke-width="0.42">5B</text>
<text x="475.37" y="526.90" font-size="14.2" font-weight="normal" fill="#000" textLength="17.00" lengthAdjust="spacingAndGlyphs" stroke="#000" stroke-width="0.42">5D</text>
<text x="503.57" y="526.90" font-size="14.2" font-weight="normal" fill="#000" textLength="17.00" lengthAdjust="spacingAndGlyphs" stroke="#000" stroke-width="0.42">6A</text>
<text x="531.78" y="526.90" font-size="14.2" font-weight="normal" fill="#000" textLength="17.00" lengthAdjust="spacingAndGlyphs" stroke="#000" stroke-width="0.42">6B</text>
<text x="559.98" y="526.90" font-size="14.2" font-weight="normal" fill="#000" textLength="17.00" lengthAdjust="spacingAndGlyphs" stroke="#000" stroke-width="0.42">6D</text>
<text x="588.19" y="526.90" font-size="14.2" font-weight="normal" fill="#000" textLength="17.00" lengthAdjust="spacingAndGlyphs" stroke="#000" stroke-width="0.42">7A</text>
<text x="616.39" y="526.90" font-size="14.2" font-weight="normal" fill="#000" textLength="17.00" lengthAdjust="spacingAndGlyphs" stroke="#000" stroke-width="0.42">7B</text>
<text x="644.60" y="526.90" font-size="14.2" font-weight="normal" fill="#000" textLength="17.00" lengthAdjust="spacingAndGlyphs" stroke="#000" stroke-width="0.42">7D</text>
<text x="324.30" y="550.30" font-size="14.6" font-weight="bold" fill="#000" textLength="93.40" lengthAdjust="spacingAndGlyphs" stroke="#000" stroke-width="0.35">Chromosomes</text>
<text transform="translate(36.10,568.80) rotate(-90)" font-size="14.8" font-weight="bold" stroke="#000" stroke-width="0.35" textLength="138.80" lengthAdjust="spacingAndGlyphs">No. of QTNs detected</text>
</g>
</svg>
</body></html>
